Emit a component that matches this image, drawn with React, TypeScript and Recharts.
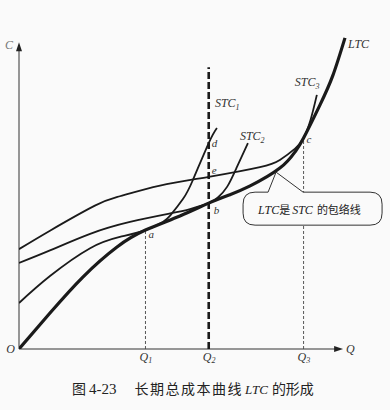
import React from "react";
import { ComposedChart, Line, XAxis, YAxis, ReferenceLine, ReferenceDot } from "recharts";

// Q = output, C = total cost, both in units
const ltc = [
  { q: 0, c: 0 }, { q: 0.98, c: 1.15 }, { q: 2.02, c: 2.3 }, { q: 3.1, c: 3.26 },
  { q: 4, c: 3.8 }, { q: 5.09, c: 4.25 }, { q: 6, c: 4.66 }, { q: 6.67, c: 4.93 },
  { q: 7.31, c: 5.21 }, { q: 8.25, c: 5.78 }, { q: 8.73, c: 6.3 }, { q: 9, c: 6.74 },
  { q: 9.52, c: 7.8 }, { q: 9.93, c: 8.75 }, { q: 10.31, c: 9.94 },
];

const stc1 = [
  { q: 0, c: 1.47 }, { q: 0.98, c: 2.33 }, { q: 2.25, c: 3.22 }, { q: 3.19, c: 3.58 },
  { q: 4, c: 3.8 }, { q: 4.55, c: 4.06 }, { q: 4.78, c: 4.26 }, { q: 5.19, c: 4.8 },
  { q: 5.5, c: 5.4 }, { q: 6, c: 6.58 }, { q: 6.26, c: 7.06 },
];

const stc2 = [
  { q: 0, c: 2.75 }, { q: 0.98, c: 3.15 }, { q: 2.25, c: 3.68 }, { q: 3.51, c: 4.06 },
  { q: 4.78, c: 4.33 }, { q: 5.41, c: 4.47 }, { q: 6, c: 4.66 }, { q: 6.29, c: 4.84 },
  { q: 6.58, c: 5.18 }, { q: 6.89, c: 5.81 }, { q: 7.24, c: 6.58 },
];

const stc3 = [
  { q: 0, c: 3.19 }, { q: 0.98, c: 3.78 }, { q: 2.4, c: 4.58 }, { q: 3.19, c: 4.88 },
  { q: 4.46, c: 5.22 }, { q: 6, c: 5.5 }, { q: 7.62, c: 5.81 }, { q: 8.25, c: 6.04 },
  { q: 8.73, c: 6.4 }, { q: 9, c: 6.74 }, { q: 9.22, c: 7.32 }, { q: 9.42, c: 8.12 },
];

const qTicks = [4, 6, 9];
const qTickSubs = ["1", "2", "3"];

// tangency points of LTC with each STC, and crossings on the Q2 line
const tangentPoints = [
  { name: "a", q: 4, c: 3.8 },
  { name: "b", q: 6, c: 4.66 },
  { name: "c", q: 9, c: 6.74 },
];
const q2Crossings = [
  { name: "d", q: 6, c: 6.58 },
  { name: "e", q: 6, c: 5.5 },
];
const q2LineTop = 9;
const calloutAt = { q: 8.13, c: 5.65 };

const Q_MAX = 10.5;
const C_MAX = 10;
const Q_AXIS_END = 10.25;
const C_AXIS_END = 9.8;

const serif = "'Liberation Serif', 'DejaVu Serif', serif";
const cjk = "'Noto Sans CJK SC', sans-serif";
const ink = "#1a1a1a";
const bg = "#fafafa";

const labelStyle = { fontFamily: serif, fontStyle: "italic" as const, fontSize: 12, fill: "#333" };

const pointOffset: Record<string, [number, number]> = {
  a: [3, 8], b: [5, 11], c: [3, 5], d: [3, 4], e: [3, -3],
};

const curveTag = (name: string, sub: string, dx: number, dy: number) => (p: any) => (
  <text x={p.cx + dx} y={p.cy + dy} style={labelStyle}>
    {name}
    {sub ? <tspan fontSize={8} dy={3}>{sub}</tspan> : null}
  </text>
);

const QTick = (p: any) => {
  const i = qTicks.indexOf(p.payload.value);
  return (
    <text x={p.x - 6} y={p.y + 12} style={labelStyle}>
      Q<tspan fontSize={8} dy={2}>{qTickSubs[i]}</tspan>
    </text>
  );
};

export default function App() {
  const last = (d: { q: number; c: number }[]) => d[d.length - 1];
  return (
    <div style={{ position: "absolute", left: 0, top: 0, width: 390, height: 410, background: bg }}>
      <ComposedChart width={390} height={410} margin={{ top: 36, right: 39, bottom: 41, left: 19 }}>
        <XAxis
          type="number"
          dataKey="q"
          domain={[0, Q_MAX]}
          ticks={qTicks}
          allowDataOverflow
          axisLine={false}
          tickLine={false}
          tickSize={0}
          tickMargin={0}
          height={20}
          tick={QTick}
        />
        <YAxis type="number" dataKey="c" domain={[0, C_MAX]} allowDataOverflow hide />

        {/* axes */}
        <ReferenceLine segment={[{ x: 0, y: 0 }, { x: 0, y: C_AXIS_END - 0.2 }]} stroke="#333" strokeWidth={1} ifOverflow="visible" />
        <ReferenceLine segment={[{ x: 0, y: 0 }, { x: Q_AXIS_END - 0.2, y: 0 }]} stroke="#333" strokeWidth={1} ifOverflow="visible" />
        <ReferenceDot x={0} y={C_AXIS_END} ifOverflow="visible"
          shape={(p: any) => <path d={`M${p.cx} ${p.cy} L${p.cx - 3} ${p.cy + 9} L${p.cx + 3} ${p.cy + 9} Z`} fill="#222" />} />
        <ReferenceDot x={Q_AXIS_END} y={0} ifOverflow="visible"
          shape={(p: any) => <path d={`M${p.cx} ${p.cy} L${p.cx - 9} ${p.cy - 3} L${p.cx - 9} ${p.cy + 3} Z`} fill="#222" />} />
        <ReferenceDot x={0} y={C_AXIS_END} ifOverflow="visible"
          shape={(p: any) => <text x={p.cx - 6} y={p.cy + 7} textAnchor="end" style={{ ...labelStyle, fill: "#777", fontSize: 12 }}>C</text>} />
        <ReferenceDot x={0} y={0} ifOverflow="visible"
          shape={(p: any) => <text x={p.cx - 4} y={p.cy + 4} textAnchor="end" style={labelStyle}>O</text>} />
        <ReferenceDot x={Q_AXIS_END} y={0} ifOverflow="visible"
          shape={(p: any) => <text x={p.cx + 3} y={p.cy + 4} style={labelStyle}>Q</text>} />

        {/* guide lines down to Q1, Q2, Q3 */}
        <ReferenceLine segment={[{ x: tangentPoints[0].q, y: 0 }, { x: tangentPoints[0].q, y: tangentPoints[0].c }]}
          stroke="#444" strokeWidth={0.9} strokeDasharray="3 2" ifOverflow="visible" />
        <ReferenceLine segment={[{ x: tangentPoints[2].q, y: 0 }, { x: tangentPoints[2].q, y: tangentPoints[2].c }]}
          stroke="#444" strokeWidth={0.9} strokeDasharray="3 2" ifOverflow="visible" />
        <ReferenceLine segment={[{ x: qTicks[1], y: 0 }, { x: qTicks[1], y: q2LineTop }]}
          stroke={ink} strokeWidth={2.6} strokeDasharray="7 3" ifOverflow="visible" />

        <Line data={stc1} dataKey="c" type="natural" stroke={ink} strokeWidth={1.8} dot={false} isAnimationActive={false} />
        <Line data={stc2} dataKey="c" type="natural" stroke={ink} strokeWidth={1.8} dot={false} isAnimationActive={false} />
        <Line data={stc3} dataKey="c" type="natural" stroke={ink} strokeWidth={1.8} dot={false} isAnimationActive={false} />
        <Line data={ltc} dataKey="c" type="natural" stroke={ink} strokeWidth={3.2} dot={false} isAnimationActive={false} />

        {/* curve names */}
        <ReferenceDot x={last(ltc).q} y={last(ltc).c} ifOverflow="visible" shape={curveTag("LTC", "", 3, 10)} />
        <ReferenceDot x={last(stc1).q} y={last(stc1).c} ifOverflow="visible" shape={curveTag("STC", "1", -2, -21)} />
        <ReferenceDot x={last(stc2).q} y={last(stc2).c} ifOverflow="visible" shape={curveTag("STC", "2", -8, -3)} />
        <ReferenceDot x={last(stc3).q} y={last(stc3).c} ifOverflow="visible" shape={curveTag("STC", "3", -22, -9)} />

        {[...tangentPoints, ...q2Crossings].map((pt) => (
          <ReferenceDot key={pt.name} x={pt.q} y={pt.c} ifOverflow="visible"
            shape={(p: any) => (
              <text x={p.cx + pointOffset[pt.name][0]} y={p.cy + pointOffset[pt.name][1]} style={{ ...labelStyle, fontSize: 11 }}>
                {pt.name}
              </text>
            )} />
        ))}

        {/* callout: LTC is the envelope of the STC curves */}
        <ReferenceDot x={calloutAt.q} y={calloutAt.c} ifOverflow="visible"
          shape={(p: any) => {
            const x = p.cx, y = p.cy;
            const d = `M${x - 8} ${y + 20} L${x} ${y} L${x + 27} ${y + 20} L${x + 94} ${y + 20} Q${x + 106} ${y + 20} ${x + 106} ${y + 32}
              L${x + 106} ${y + 41} Q${x + 106} ${y + 53} ${x + 94} ${y + 53} L${x - 21} ${y + 53} Q${x - 33} ${y + 53} ${x - 33} ${y + 41}
              L${x - 33} ${y + 32} Q${x - 33} ${y + 20} ${x - 21} ${y + 20} Z`;
            return (
              <g>
                <path d={d} fill={bg} stroke="#333" strokeWidth={1} />
                <text x={x - 18} y={y + 42} fill="#222">
                  <tspan style={{ fontFamily: serif, fontStyle: "italic", fontSize: 12 }}>LTC</tspan>
                  <tspan style={{ fontFamily: cjk, fontSize: 11 }}>是</tspan>
                  <tspan style={{ fontFamily: serif, fontStyle: "italic", fontSize: 12 }} dx={2}>STC</tspan>
                  <tspan style={{ fontFamily: cjk, fontSize: 11 }} dx={4}>的包络线</tspan>
                </text>
              </g>
            );
          }} />
      </ComposedChart>

      <div style={{ position: "absolute", left: 72, top: 378, whiteSpace: "nowrap", color: "#222", fontSize: 14, lineHeight: "20px" }}>
        <span style={{ fontFamily: cjk }}>图</span>
        <span style={{ fontFamily: serif, fontSize: 15, marginLeft: 3 }}>4-23</span>
        <span style={{ fontFamily: cjk, marginLeft: 18, letterSpacing: 1.5 }}>长期总成本曲线</span>
        <span style={{ fontFamily: serif, fontStyle: "italic", fontSize: 13, marginLeft: 2 }}>LTC</span>
        <span style={{ fontFamily: cjk, marginLeft: 4 }}>的形成</span>
      </div>
    </div>
  );
}
